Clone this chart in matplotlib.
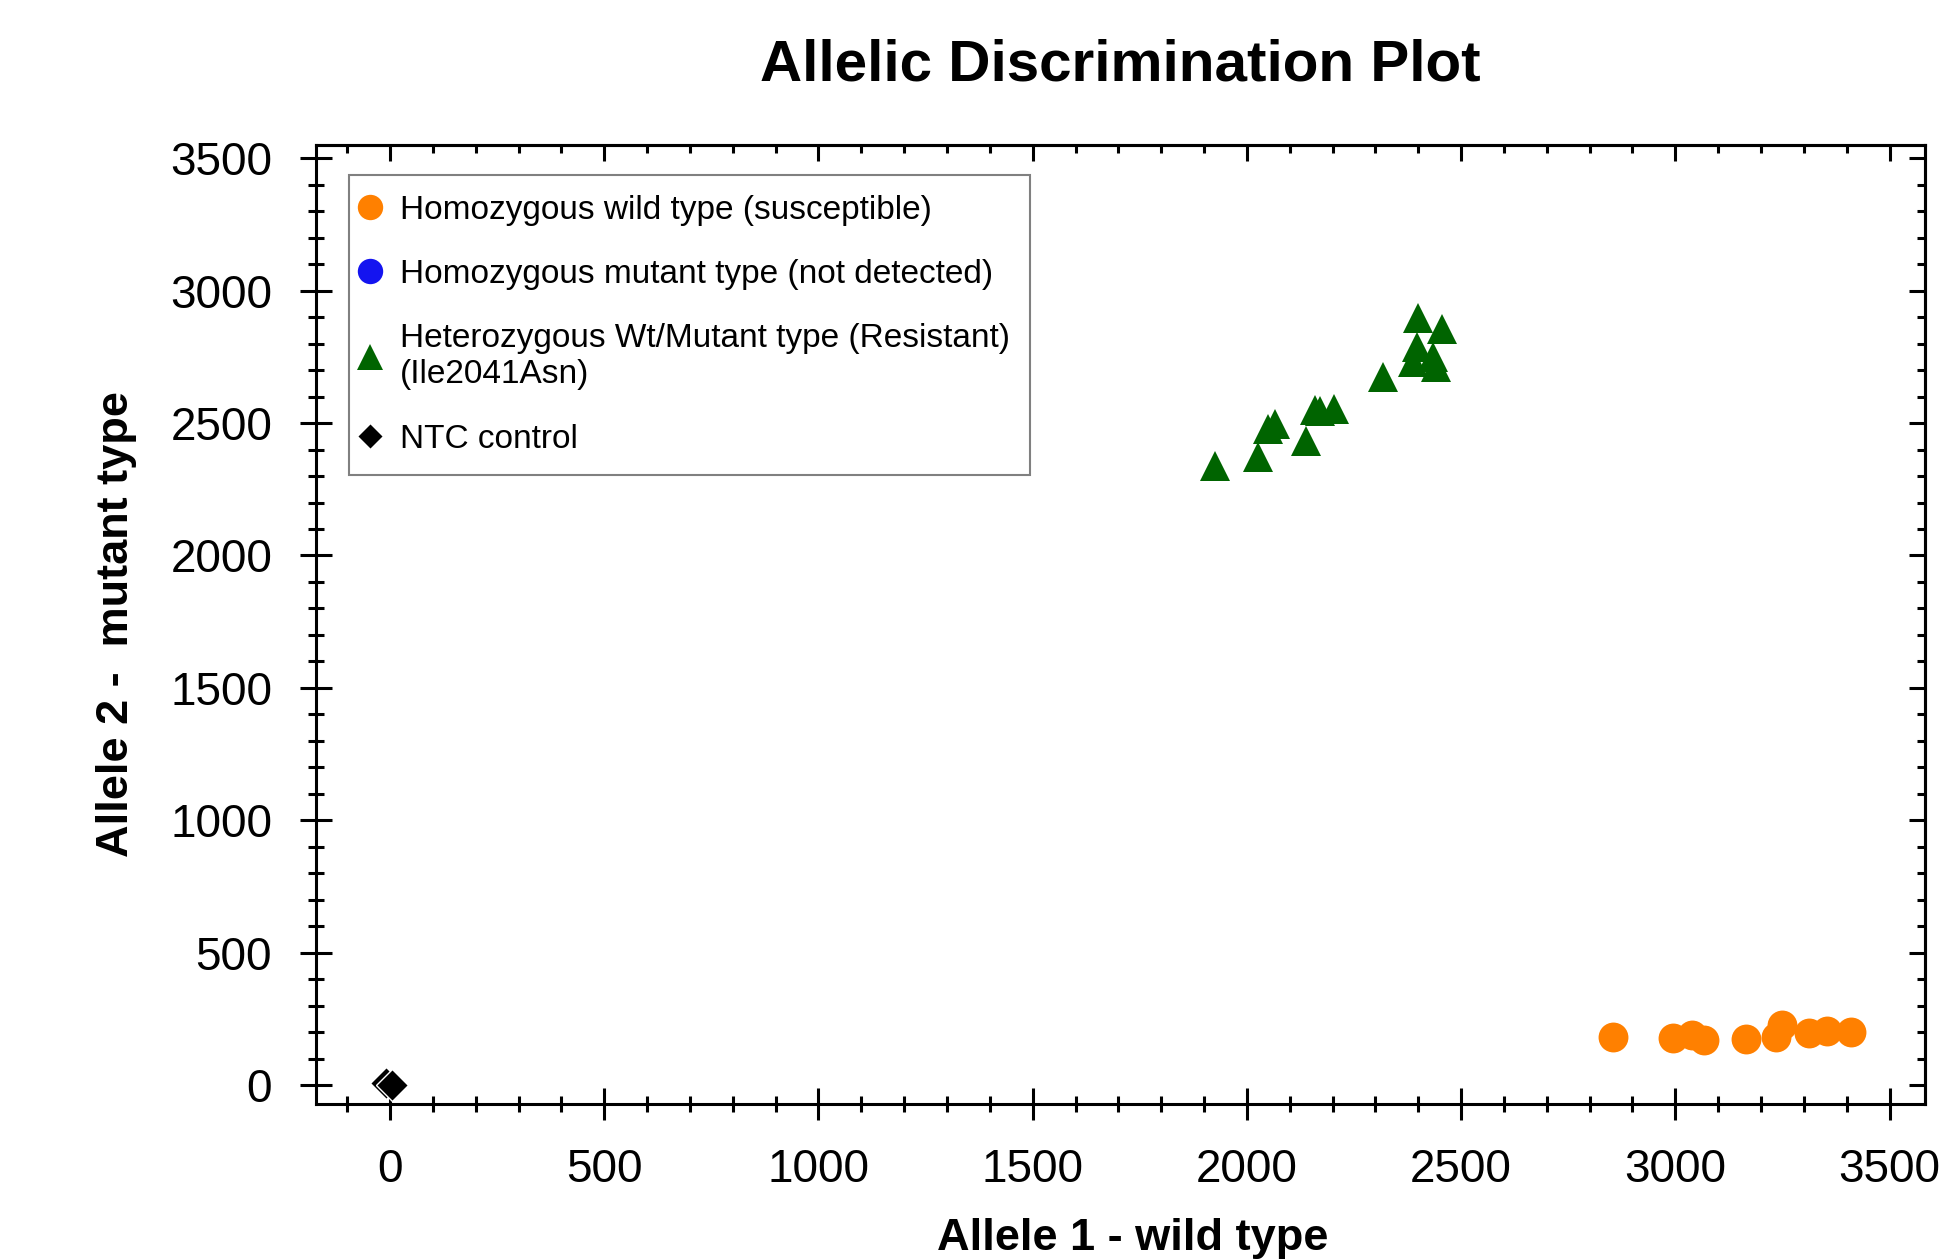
import numpy as np
import matplotlib.pyplot as plt
from matplotlib.ticker import MultipleLocator

plt.rcParams['font.family'] = ['Liberation Sans', 'DejaVu Sans']

# allele signal values
wt_x = [2854, 2994, 3038, 3068, 3166, 3234, 3248, 3313, 3353, 3411]
wt_y = [181, 178, 189, 170, 174, 181, 227, 196, 204, 200]

mut_x = []   # not detected
mut_y = []

het_x = [1925, 2025, 2049, 2065, 2137, 2158, 2170, 2203, 2317, 2399, 2396, 2387, 2455, 2434, 2441]
het_y = [2338, 2372, 2478, 2497, 2433, 2550, 2546, 2554, 2675, 2898, 2788, 2731, 2856, 2750, 2712]

ntc_x = [-10, 5]
ntc_y = [8, 0]

labels = ["Homozygous wild type (susceptible)",
          "Homozygous mutant type (not detected)",
          "Heterozygous Wt/Mutant type (Resistant)\n(Ile2041Asn)",
          "NTC control"]

fig, ax = plt.subplots(figsize=(19.5, 12.59), dpi=100)
fig.subplots_adjust(left=0.162, right=0.987, bottom=0.123, top=0.885)

ax.plot(wt_x, wt_y, 'o', color='#ff8000', markersize=21.5, markeredgewidth=0, label=labels[0])
ax.plot(mut_x, mut_y, 'o', color='#1414f0', markersize=21.5, markeredgewidth=0, label=labels[1])
ax.plot(het_x, het_y, '^', color='#006400', markersize=22, markeredgewidth=0, label=labels[2])
ax.plot(ntc_x, ntc_y, 'D', color='black', markersize=16, markeredgecolor='white',
        markeredgewidth=1, label=labels[3])

ax.set_xlim(-173, 3582)
ax.set_ylim(-72, 3551)

ax.xaxis.set_major_locator(MultipleLocator(500))
ax.xaxis.set_minor_locator(MultipleLocator(100))
ax.yaxis.set_major_locator(MultipleLocator(500))
ax.yaxis.set_minor_locator(MultipleLocator(100))

ax.tick_params(which='both', direction='inout', width=2.2, labelsize=33, top=False, right=False)
ax.tick_params(which='major', length=23)
ax.tick_params(which='minor', length=11.5)
ax.tick_params(axis='x', which='major', pad=20)
ax.tick_params(axis='y', which='major', pad=20)
for s in ax.spines.values():
    s.set_linewidth(2.2)

# inward ticks on top and right
secx = ax.secondary_xaxis('top')
secx.xaxis.set_major_locator(MultipleLocator(500))
secx.xaxis.set_minor_locator(MultipleLocator(100))
secx.tick_params(which='both', direction='in', width=2.2, labeltop=False)
secx.tick_params(which='major', length=11.5)
secx.tick_params(which='minor', length=5.8)
secx.spines['top'].set_linewidth(2.2)

secy = ax.secondary_yaxis('right')
secy.yaxis.set_major_locator(MultipleLocator(500))
secy.yaxis.set_minor_locator(MultipleLocator(100))
secy.tick_params(which='both', direction='in', width=2.2, labelright=False)
secy.tick_params(which='major', length=11.5)
secy.tick_params(which='minor', length=5.8)
secy.spines['right'].set_linewidth(2.2)

ax.set_title("Allelic Discrimination Plot", fontsize=42, fontweight='bold', pad=46)
ax.set_xlabel("Allele 1 - wild type", fontsize=32.5, fontweight='bold', labelpad=19)
ax.xaxis.label.set_x(0.508)
ax.set_ylabel("Allele 2 -  mutant type", fontsize=32.5, fontweight='bold', labelpad=24)

leg = ax.legend(loc='upper left', bbox_to_anchor=(0.0205, 0.9687), borderaxespad=0,
                fontsize=24, markerscale=0.85, handlelength=0.05, handletextpad=0.88,
                borderpad=0.6, labelspacing=1.0, fancybox=False, framealpha=1)
leg.get_frame().set_edgecolor('#808080')
leg.get_frame().set_linewidth(1.5)

plt.savefig('out.png', dpi=100)
